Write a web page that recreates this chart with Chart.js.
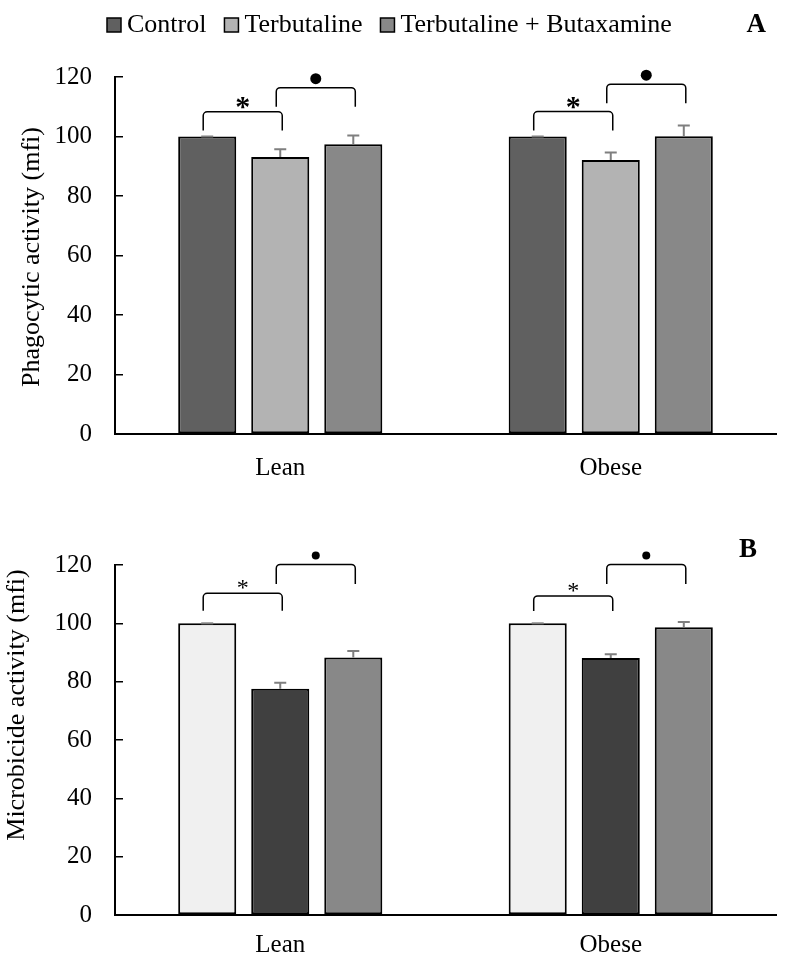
<!DOCTYPE html>
<html lang="en">
<head>
  <meta charset="UTF-8">
  <title>Phagocytic and microbicide activity</title>
  <script src="https://cdn.jsdelivr.net/npm/chart.js@4.4.1/dist/chart.umd.min.js"></script>
  <style>
    body { margin: 0; background: #fff; }
    .panel { position: absolute; left: 0; width: 790px; }
    #panelA { top: 0; height: 480px; }
    #panelB { top: 480px; height: 481px; }
  </style>
</head>
<body>
  <div class="panel" id="panelA"><canvas id="chartA"></canvas></div>
  <div class="panel" id="panelB"><canvas id="chartB"></canvas></div>

  <script>
    // data
    const groups = ['Lean', 'Obese'];
    const seriesNames = ['Control', 'Terbutaline', 'Terbutaline + Butaxamine'];
    const yTicks = [0, 20, 40, 60, 80, 100, 120];

    // A: phagocytic activity (mfi)
    const phagoControl = [100, 100];
    const phagoTerb = [93.1, 92.1];
    const phagoTerbBut = [97.4, 100.1];
    const phagoErrControl = [0, 0];
    const phagoErrTerb = [2.6, 2.5];
    const phagoErrTerbBut = [2.9, 3.6];
    // [group, from series, to series, bracket top, leg end, mark]
    const phagoSig = [
      [0, 0, 1, 108.3, 102, '*'],
      [0, 1, 2, 116.4, 110, '•'],
      [1, 0, 1, 108.4, 102, '*'],
      [1, 1, 2, 117.6, 111.2, '•']
    ];

    // B: microbicide activity (mfi)
    const microControl = [100, 100];
    const microTerb = [77.6, 88.1];
    const microTerbBut = [88.3, 98.7];
    const microErrControl = [0, 0];
    const microErrTerb = [2.0, 1.3];
    const microErrTerbBut = [2.2, 1.8];
    const microSig = [
      [0, 0, 1, 110.3, 104.3, '*'],
      [0, 1, 2, 120.2, 113.5, '•'],
      [1, 0, 1, 109.4, 104.2, '*'],
      [1, 1, 2, 120.2, 113.5, '•']
    ];

    const serif = "'Liberation Serif', 'Times New Roman', serif";

    // error bars, significance brackets, legend, panel letter, y title
    const extras = {
      id: 'extras',
      afterDatasetsDraw(chart, args, opts) {
        const ctx = chart.ctx;
        const y = chart.scales.y;
        ctx.save();

        // error bars (upper only)
        ctx.strokeStyle = '#7f7f7f';
        ctx.lineWidth = 2;
        chart.data.datasets.forEach((ds, i) => {
          chart.getDatasetMeta(i).data.forEach((bar, j) => {
            const top = y.getPixelForValue(ds.data[j] + opts.errors[i][j]);
            ctx.beginPath();
            ctx.moveTo(bar.x, bar.y);
            ctx.lineTo(bar.x, top);
            ctx.moveTo(bar.x - 6, top);
            ctx.lineTo(bar.x + 6, top);
            ctx.stroke();
          });
        });

        // brackets
        ctx.strokeStyle = '#000';
        ctx.fillStyle = '#000';
        ctx.lineWidth = 1.5;
        opts.sig.forEach(([g, a, b, topV, legV, mark]) => {
          const x1 = chart.getDatasetMeta(a).data[g].x - 4;
          const x2 = chart.getDatasetMeta(b).data[g].x + 2;
          const yt = y.getPixelForValue(topV);
          const yl = y.getPixelForValue(legV);
          const r = 4;
          ctx.beginPath();
          ctx.moveTo(x1, yl);
          ctx.lineTo(x1, yt + r);
          ctx.arcTo(x1, yt, x1 + r, yt, r);
          ctx.lineTo(x2 - r, yt);
          ctx.arcTo(x2, yt, x2, yt + r, r);
          ctx.lineTo(x2, yl);
          ctx.stroke();

          const xm = (x1 + x2) / 2;
          if (mark === '*') {
            ctx.font = opts.starFont;
            ctx.textAlign = 'center';
            ctx.textBaseline = 'alphabetic';
            ctx.fillText('*', xm, yt - 10 + opts.starDrop);
          } else {
            ctx.beginPath();
            ctx.arc(xm, yt - 9, opts.dotR, 0, Math.PI * 2);
            ctx.fill();
          }
        });
        ctx.restore();
      },
      afterDraw(chart, args, opts) {
        const ctx = chart.ctx;
        ctx.save();
        ctx.fillStyle = '#000';

        // panel letter
        ctx.font = 'bold 27px ' + serif;
        ctx.textAlign = 'right';
        ctx.textBaseline = 'alphabetic';
        ctx.fillText(opts.letter, opts.letterX, opts.letterY);

        // y axis title
        ctx.font = '26px ' + serif;
        ctx.textAlign = 'center';
        ctx.translate(opts.titleX, opts.titleY);
        ctx.rotate(-Math.PI / 2);
        ctx.fillText(opts.title, 0, 0);
        ctx.restore();

        // legend
        if (opts.legend) {
          ctx.save();
          ctx.font = '26px ' + serif;
          ctx.textAlign = 'left';
          ctx.textBaseline = 'alphabetic';
          let x = 107;
          chart.data.datasets.forEach(ds => {
            ctx.fillStyle = ds.backgroundColor;
            ctx.fillRect(x, 18, 14, 14);
            ctx.strokeStyle = '#000';
            ctx.lineWidth = 1.5;
            ctx.strokeRect(x, 18, 14, 14);
            ctx.fillStyle = '#000';
            ctx.fillText(ds.label, x + 20, 32);
            x += 20 + ctx.measureText(ds.label).width + 18;
          });
          ctx.restore();
        }
      }
    };

    function makeChart(id, values, colors, errors, sig, cfg) {
      return new Chart(document.getElementById(id), {
        type: 'bar',
        data: {
          labels: groups,
          datasets: values.map((v, i) => ({
            label: seriesNames[i],
            data: v,
            backgroundColor: colors[i],
            borderColor: '#000',
            borderWidth: 2,
            borderSkipped: false,
            categoryPercentage: 0.663,
            barPercentage: 0.795
          }))
        },
        options: {
          responsive: true,
          maintainAspectRatio: false,
          animation: false,
          layout: { padding: { top: cfg.padTop, right: 14, left: 0, bottom: 0 } },
          scales: {
            x: {
              grid: { display: false, drawTicks: false },
              border: { display: true, color: '#000', width: 2 },
              ticks: { color: '#000', padding: cfg.xPad, font: { family: serif, size: 25 } },
              afterFit(s) { s.height = cfg.xHeight; }
            },
            y: {
              min: 0,
              max: 120,
              afterBuildTicks(s) { s.ticks = yTicks.map(v => ({ value: v })); },
              grid: { display: true, drawOnChartArea: false, drawTicks: true, tickLength: -8, color: '#000', lineWidth: 1.5 },
              border: { display: true, color: '#000', width: 2 },
              ticks: { color: '#000', padding: 31, font: { family: serif, size: 25 } },
              afterFit(s) { s.width = 115; }
            }
          },
          plugins: {
            legend: { display: false },
            tooltip: { enabled: false },
            extras: Object.assign({ errors, sig }, cfg.extras)
          }
        },
        plugins: [extras]
      });
    }

    makeChart('chartA',
      [phagoControl, phagoTerb, phagoTerbBut],
      ['#606060', '#b3b3b3', '#888888'],
      [phagoErrControl, phagoErrTerb, phagoErrTerbBut],
      phagoSig,
      {
        padTop: 77, xHeight: 43, xPad: 19,
        extras: {
          legend: true, letter: 'A', letterX: 766, letterY: 32,
          title: 'Phagocytic activity (mfi)', titleX: 39, titleY: 257,
          starFont: 'bold 30px ' + serif, starDrop: 14, dotR: 5.5
        }
      });

    makeChart('chartB',
      [microControl, microTerb, microTerbBut],
      ['#f0f0f0', '#404040', '#888888'],
      [microErrControl, microErrTerb, microErrTerbBut],
      microSig,
      {
        padTop: 85, xHeight: 46, xPad: 15,
        extras: {
          legend: false, letter: 'B', letterX: 757, letterY: 77,
          title: 'Microbicide activity (mfi)', titleX: 24, titleY: 225,
          starFont: '24px ' + serif, starDrop: 12, dotR: 4
        }
      });
  </script>
</body>
</html>
